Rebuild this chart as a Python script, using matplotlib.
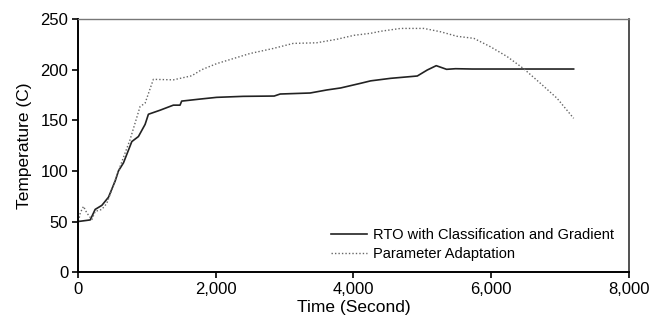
import matplotlib
matplotlib.use("Agg")
import matplotlib.pyplot as plt
from matplotlib.ticker import FuncFormatter

plt.rcParams['font.family'] = ['Liberation Sans', 'DejaVu Sans']

rto_t = [0, 179, 251, 348, 444, 541, 589, 662, 783, 879, 976, 1024, 1193, 1386, 1483, 1507,
         1773, 2014, 2401, 2850, 2937, 3372, 3614, 3816, 4106, 4251, 4541, 4928, 5072, 5203,
         5353, 5483, 5725, 7198]
rto_temp = [50, 51.6, 62, 66, 74, 90, 100, 108, 129, 134, 146, 156, 160, 165, 165, 169,
            171, 172.7, 173.7, 174, 176, 177, 180, 182, 186.6, 189, 191.5, 193.8, 199.7, 204,
            200.4, 201, 200.7, 200.7]

pa_t = [0, 34, 82, 130, 203, 251, 348, 420, 493, 613, 758, 903, 976, 1096, 1386, 1652,
        1797, 2014, 2256, 2498, 2836, 3126, 3464, 3754, 4010, 4251, 4396, 4686, 5024, 5266,
        5507, 5749, 5990, 6232, 6473, 6715, 6957, 7198]
pa_temp = [47, 58.5, 65, 58.5, 52, 60, 62, 68, 81.5, 104.5, 131, 163.6, 167, 190.5, 190, 194,
           200, 206, 211, 216, 221, 226, 226.6, 230, 234, 236, 238, 240.8, 240.8, 237.5,
           233, 231, 222.7, 213, 201, 186.6, 171.8, 152]

fig = plt.figure(figsize=(6.49, 3.24), dpi=100)
ax = fig.add_axes([0.120, 0.160, 0.849, 0.781])

ax.plot(rto_t, rto_temp, color='#222222', lw=1.2, label='RTO with Classification and Gradient')
ax.plot(pa_t, pa_temp, color='#666666', lw=1.0, ls=(0, (1, 1.5)), label='Parameter Adaptation')

ax.set_xlim(0, 8000)
ax.set_ylim(0, 250)
ax.set_xticks([0, 2000, 4000, 6000, 8000])
ax.set_yticks([0, 50, 100, 150, 200, 250])
ax.xaxis.set_major_formatter(FuncFormatter(lambda v, p: f"{int(v):,}"))
ax.tick_params(axis='both', labelsize=12, direction='out', length=4, width=1.2, colors='black', pad=3)
ax.set_xlabel('Time (Second)', fontsize=12.5, labelpad=2)
ax.set_ylabel('Temperature (C)', fontsize=12.5, labelpad=6)

for s in ['left', 'bottom']:
    ax.spines[s].set_linewidth(1.4)
    ax.spines[s].set_color('black')
ax.spines['top'].set_color('#777777')
ax.spines['top'].set_linewidth(1.0)
ax.spines['right'].set_color('#333333')
ax.spines['right'].set_linewidth(1.2)

ax.legend(loc='lower right', bbox_to_anchor=(0.973, 0.045), frameon=False, fontsize=10.5,
          handlelength=2.47, handletextpad=0.41, labelspacing=0.35, borderpad=0, borderaxespad=0)

fig.savefig('out.png', dpi=100)
